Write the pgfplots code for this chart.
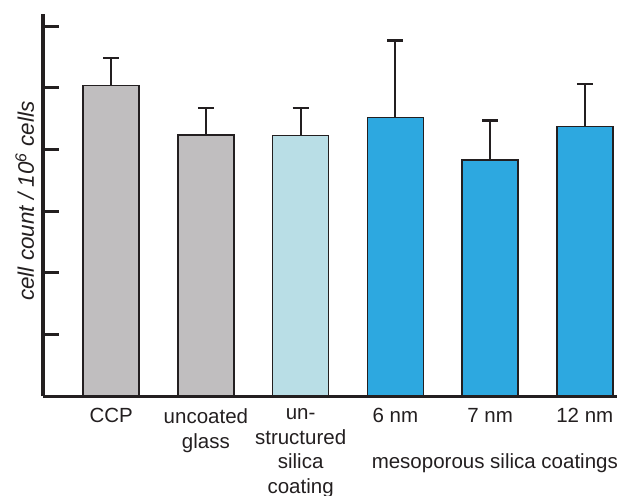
\documentclass[border=0pt]{standalone}
\usepackage{fontspec}
\setmainfont{Liberation Sans}
\usepackage{pgfplots}
\pgfplotsset{compat=1.18}
\definecolor{cgray}{RGB}{192,190,191}
\definecolor{clight}{RGB}{185,222,230}
\definecolor{cblue}{RGB}{45,168,224}
\definecolor{ctext}{RGB}{35,31,32}
\begin{document}
\begin{tikzpicture}
\path[use as bounding box] (-43bp,-100bp) rectangle (574bp,396bp);
\begin{axis}[
  scale only axis,
  width=574bp, height=382bp,
  xmin=-0.72, xmax=5.34,
  ymin=0, ymax=6.2,
  axis x line=bottom, axis y line=left,
  axis line style={line width=3bp, -, ctext},
  ytick={1,2,3,4,5,6},
  yticklabels={},
  ytick style={line width=3bp, ctext},
  tick align=inside,
  major tick length=16bp,
  xtick={0,1,2,3,4,5},
  xtick style={draw=none},
  xticklabels={CCP,{uncoated\\glass},{un-\\structured\\silica\\coating},6 nm,7 nm,12 nm},
  xticklabel style={align=center, text=ctext, font=\fontsize{20.5bp}{24.7bp}\selectfont, yshift=7bp},
  ylabel={\itshape cell count / 10\textsuperscript{6} cells},
  ylabel style={at={(axis description cs:-0.032,0.51)}, anchor=center, text=ctext, font=\fontsize{22.5bp}{27bp}\selectfont},
  ybar, bar width=56bp,
  every axis plot/.append style={bar shift=0pt, draw=ctext, line width=1.5bp},
  error bars/y dir=plus,
  error bars/y explicit,
  error bars/error bar style={line width=2bp, ctext},
  error bars/error mark options={rotate=90, mark size=8bp, line width=2.2bp, ctext},
  clip=false,
]
\addplot[fill=cgray] coordinates {(0,5.04) +- (0,0.44) (1,4.24) +- (0,0.43)};
\addplot[fill=clight] coordinates {(2,4.23) +- (0,0.44)};
\addplot[fill=cblue] coordinates {(3,4.52) +- (0,1.25) (4,3.83) +- (0,0.64) (5,4.37) +- (0,0.69)};
\node[font=\fontsize{20.5bp}{24.7bp}\selectfont, text=ctext, anchor=center] at ([yshift=-67bp]axis cs:4.05,0) {mesoporous silica coatings};
\end{axis}
\end{tikzpicture}
\end{document}
